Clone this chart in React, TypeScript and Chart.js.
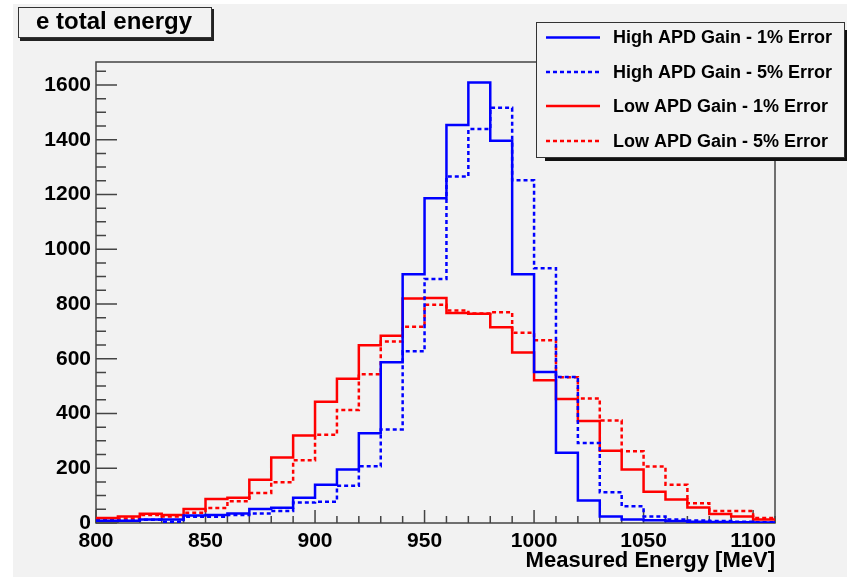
import React, { useEffect, useRef } from "react";
import { Chart, registerables } from "chart.js";

Chart.register(...registerables);

const binLowEdges = [
  800, 810, 820, 830, 840, 850, 860, 870, 880, 890, 900, 910, 920, 930, 940, 950,
  960, 970, 980, 990, 1000, 1010, 1020, 1030, 1040, 1050, 1060, 1070, 1080, 1090, 1100,
];
const binUpperEnd = 1110;

const highGain1 = [
  8, 8, 13, 13, 27, 29, 35, 51, 56, 92, 140, 195, 328, 587, 909, 1186,
  1454, 1609, 1396, 909, 552, 257, 82, 24, 13, 10, 7, 5, 4, 3, 2,
];
const highGain5 = [
  8, 8, 12, 5, 23, 23, 29, 35, 44, 75, 78, 136, 207, 342, 627, 891,
  1266, 1439, 1517, 1252, 931, 533, 292, 112, 61, 24, 13, 9, 7, 5, 3,
];
const lowGain1 = [
  18, 24, 34, 29, 51, 88, 92, 158, 239, 320, 443, 527, 649, 684, 820, 822,
  767, 764, 715, 623, 521, 453, 373, 264, 195, 114, 86, 57, 33, 24, 13,
];
const lowGain5 = [
  15, 16, 29, 24, 37, 55, 79, 110, 149, 229, 322, 413, 543, 663, 717, 797,
  776, 765, 770, 695, 668, 532, 455, 374, 262, 206, 140, 72, 44, 44, 18,
];

const seriesLabels = [
  "High APD Gain - 1% Error",
  "High APD Gain - 5% Error",
  "Low APD Gain - 1% Error",
  "Low APD Gain - 5% Error",
];
const xTickValues = [800, 850, 900, 950, 1000, 1050, 1100];
const yTickValues = [0, 200, 400, 600, 800, 1000, 1200, 1400, 1600];
const titleText = "e total energy";
const xAxisTitle = "Measured Energy [MeV]";

const FONT = "'Liberation Sans', Arial, Helvetica, sans-serif";
const BG = "#f2f2f2";
const FRAME = "#444444";

function histPoints(values: number[]) {
  const pts = binLowEdges.map((x, i) => ({ x, y: values[i] }));
  pts.push({ x: binUpperEnd, y: values[values.length - 1] });
  return pts;
}

const decorPlugin = {
  id: "rootDecor",
  beforeDraw(chart: any) {
    const ctx = chart.ctx;
    ctx.save();
    ctx.fillStyle = "#ffffff";
    ctx.fillRect(0, 0, chart.width, chart.height);
    ctx.fillStyle = BG;
    ctx.fillRect(13, 4, chart.width - 13, chart.height - 4);
    ctx.restore();
  },
  beforeDatasetsDraw(chart: any) {
    const ctx = chart.ctx;
    const { left, right, top, bottom } = chart.chartArea;
    const xs = chart.scales.x;
    const ys = chart.scales.y;
    ctx.save();
    ctx.strokeStyle = FRAME;
    ctx.lineWidth = 1.5;
    ctx.strokeRect(left, top, right - left, bottom - top);
    ctx.beginPath();
    for (let v = 800; v <= 1110; v += 10) {
      const px = xs.getPixelForValue(v);
      const len = v % 50 === 0 ? 13 : 7;
      ctx.moveTo(px, bottom);
      ctx.lineTo(px, bottom - len);
    }
    for (let v = 0; v <= 1680; v += 50) {
      const py = ys.getPixelForValue(v);
      const len = v % 200 === 0 ? 21 : 10;
      ctx.moveTo(left, py);
      ctx.lineTo(left + len, py);
    }
    ctx.stroke();
    ctx.restore();
  },
  afterDraw(chart: any) {
    const ctx = chart.ctx;
    ctx.save();
    // title box
    ctx.fillStyle = "#222";
    ctx.fillRect(20, 9, 194, 32);
    ctx.fillStyle = BG;
    ctx.fillRect(18, 7, 194, 31);
    ctx.strokeStyle = "#333";
    ctx.lineWidth = 1;
    ctx.strokeRect(18.5, 7.5, 193, 30);
    ctx.fillStyle = "#000";
    ctx.font = `bold 24px ${FONT}`;
    ctx.textBaseline = "alphabetic";
    ctx.textAlign = "left";
    ctx.fillText(titleText, 36, 29);

    // x axis title
    ctx.font = `bold 22px ${FONT}`;
    ctx.textAlign = "right";
    ctx.fillText(xAxisTitle, chart.chartArea.right, 567);

    // legend box
    ctx.fillStyle = "#111";
    ctx.fillRect(545, 30, 302, 131);
    ctx.fillStyle = BG;
    ctx.fillRect(536, 22, 309, 136);
    ctx.strokeStyle = "#333";
    ctx.lineWidth = 1;
    ctx.strokeRect(536.5, 22.5, 308, 135);
    const rowsY = [37.5, 72, 106, 141];
    const dsets = chart.data.datasets;
    ctx.font = `bold 18px ${FONT}`;
    ctx.textAlign = "left";
    ctx.textBaseline = "middle";
    for (let i = 0; i < dsets.length; i++) {
      const d = dsets[i];
      ctx.beginPath();
      ctx.strokeStyle = d.borderColor;
      ctx.lineWidth = 2.5;
      ctx.setLineDash(d.borderDash || []);
      ctx.moveTo(546, rowsY[i]);
      ctx.lineTo(600, rowsY[i]);
      ctx.stroke();
      ctx.setLineDash([]);
      ctx.fillStyle = "#000";
      ctx.fillText(seriesLabels[i], 613, rowsY[i] + 1);
    }
    ctx.restore();
  },
};

export default function App() {
  const ref = useRef<HTMLCanvasElement | null>(null);
  useEffect(() => {
    if (!ref.current) return;
    const mk = (vals: number[], color: string, dash: number[] | undefined, label: string) => ({
      label,
      data: histPoints(vals),
      borderColor: color,
      backgroundColor: color,
      borderWidth: 2.5,
      borderDash: dash,
      stepped: "before" as const,
      pointRadius: 0,
      fill: false,
      tension: 0,
    });
    const chart = new Chart(ref.current, {
      type: "line",
      data: {
        datasets: [
          mk(highGain1, "#0000ff", undefined, seriesLabels[0]),
          mk(highGain5, "#0000ff", [4, 3], seriesLabels[1]),
          mk(lowGain1, "#ff0000", undefined, seriesLabels[2]),
          mk(lowGain5, "#ff0000", [4, 3], seriesLabels[3]),
        ],
      },
      options: {
        responsive: false,
        animation: false,
        devicePixelRatio: 1,
        layout: { padding: { left: 0, top: 62, right: 72, bottom: 0 } },
        plugins: {
          legend: { display: false },
          title: { display: false },
          tooltip: { enabled: false },
        },
        scales: {
          x: {
            type: "linear",
            min: 800,
            max: 1110,
            grid: { display: false, drawTicks: false },
            border: { display: false },
            afterBuildTicks: (s: any) => {
              s.ticks = xTickValues.map((v) => ({ value: v }));
            },
            afterFit: (s: any) => {
              s.height = 54;
            },
            ticks: {
              color: "#000",
              padding: 6,
              maxRotation: 0,
              autoSkip: false,
              callback: (v: any) => String(v),
              font: { family: FONT, size: 21, weight: "bold" },
            },
          },
          y: {
            type: "linear",
            min: 0,
            max: 1684,
            grid: { display: false, drawTicks: false },
            border: { display: false },
            afterBuildTicks: (s: any) => {
              s.ticks = yTickValues.map((v) => ({ value: v }));
            },
            afterFit: (s: any) => {
              s.width = 96;
            },
            ticks: {
              color: "#000",
              padding: 5,
              autoSkip: false,
              callback: (v: any) => String(v),
              font: { family: FONT, size: 21, weight: "bold" },
            },
          },
        },
      },
      plugins: [decorPlugin],
    });
    return () => chart.destroy();
  }, []);
  return (
    <div style={{ position: "absolute", left: 0, top: 0, width: 847, height: 577 }}>
      <canvas ref={ref} width={847} height={577} style={{ width: 847, height: 577, display: "block" }} />
    </div>
  );
}
